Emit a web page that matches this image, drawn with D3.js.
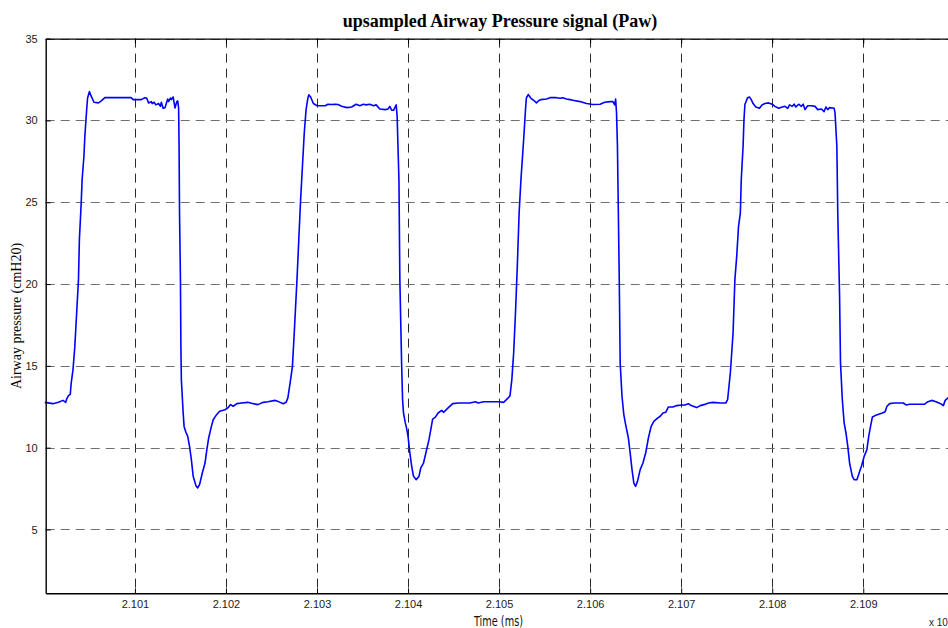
<!DOCTYPE html>
<head>
<meta charset="utf-8">
<script src="https://d3js.org/d3.v7.min.js"></script>
</head>
<style>
body { margin: 0; background: #fff; }
.line { fill: none; stroke: #0000ff; stroke-width: 1.6px; stroke-linejoin: round; }
.grid line { stroke-width: 1px; stroke-dasharray: 9,6; }
.grid .gx { stroke: #2a2a2a; }
.grid .gy { stroke: #707070; }
.tick text { font-family: "Liberation Sans", Arial, sans-serif; font-size: 11px; fill: #222; }
</style>
<body>
<script>
// time in ms (axis shown as x 10^4)
var timeMs = [
  21000.1, 21001.0, 21001.6, 21002.1, 21002.4, 21002.5, 21002.7, 21002.9, 21003.0, 21003.2,
  21003.4, 21003.6, 21003.8, 21003.9, 21004.1, 21004.2, 21004.4, 21004.5, 21004.7, 21004.8,
  21005.0, 21005.2, 21005.5, 21006.0, 21006.3, 21006.7, 21007.4, 21009.6, 21009.8, 21010.7,
  21011.1, 21011.3, 21011.5, 21011.8, 21011.9, 21012.1, 21012.3, 21012.6, 21012.8, 21012.9,
  21013.1, 21013.3, 21013.6, 21013.7, 21013.9, 21014.0, 21014.2, 21014.4, 21014.6, 21014.7,
  21014.8, 21014.85, 21014.9, 21015.0, 21015.05, 21015.1, 21015.3, 21015.4, 21015.6, 21015.8,
  21016.0, 21016.2, 21016.4, 21016.7, 21016.9, 21017.1, 21017.4, 21017.7, 21017.9, 21018.1,
  21018.4, 21018.6, 21018.9, 21019.3, 21019.9, 21020.2, 21020.5, 21020.8, 21021.2, 21021.7,
  21022.4, 21023.0, 21023.5, 21024.1, 21024.6, 21025.4, 21025.7, 21026.3, 21026.6, 21026.8,
  21027.1, 21027.3, 21027.5, 21027.8, 21028.0, 21028.2, 21028.4, 21028.6, 21028.8, 21029.0,
  21029.1, 21029.3, 21029.6, 21030.0, 21030.9, 21031.2, 21031.6, 21032.0, 21032.3, 21032.7,
  21033.3, 21033.8, 21034.3, 21034.7, 21035.1, 21035.4, 21035.8, 21036.2, 21036.5, 21036.9,
  21037.5, 21037.8, 21038.0, 21038.2, 21038.4, 21038.7, 21038.8, 21039.0, 21039.1, 21039.3,
  21039.4, 21039.5, 21039.7, 21039.8, 21040.0, 21040.2, 21040.4, 21040.6, 21040.9, 21041.2,
  21041.4, 21041.7, 21042.0, 21042.3, 21042.5, 21042.7, 21043.0, 21043.3, 21043.7, 21043.9,
  21044.4, 21044.9, 21045.5, 21046.1, 21046.8, 21047.4, 21047.7, 21048.3, 21049.0, 21050.0,
  21050.5, 21051.0, 21051.2, 21051.4, 21051.6, 21051.8, 21052.0, 21052.2, 21052.4, 21052.7,
  21052.9, 21053.0, 21053.2, 21053.5, 21053.8, 21054.1, 21054.4, 21054.6, 21055.2, 21055.6,
  21056.0, 21056.3, 21056.7, 21057.0, 21057.4, 21057.8, 21058.1, 21058.9, 21059.6, 21060.3,
  21061.1, 21061.6, 21062.2, 21062.5, 21062.7, 21062.8, 21062.9, 21063.0, 21063.1, 21063.2,
  21063.3, 21063.5, 21063.7, 21063.9, 21064.2, 21064.4, 21064.6, 21064.8, 21065.0, 21065.2,
  21065.5, 21065.8, 21066.1, 21066.4, 21066.7, 21067.0, 21067.4, 21067.7, 21068.0, 21068.3,
  21068.6, 21069.1, 21069.5, 21070.1, 21070.4, 21070.8, 21071.1, 21071.7, 21072.1, 21072.5,
  21073.0, 21073.5, 21074.3, 21074.9, 21075.1, 21075.4, 21075.7, 21075.9, 21076.1, 21076.3,
  21076.5, 21076.6, 21076.8, 21076.9, 21077.0, 21077.3, 21077.5, 21077.7, 21077.9, 21078.2,
  21078.6, 21078.9, 21079.2, 21079.6, 21080.0, 21080.3, 21080.7, 21081.1, 21081.4, 21081.7,
  21081.9, 21082.2, 21082.4, 21082.6, 21082.9, 21083.2, 21083.4, 21083.6, 21083.9, 21084.3,
  21084.7, 21085.0, 21085.4, 21085.7, 21085.9, 21086.1, 21086.3, 21086.8, 21086.9, 21087.1,
  21087.2, 21087.4, 21087.5, 21087.7, 21087.9, 21088.1, 21088.3, 21088.5, 21088.8, 21089.0,
  21089.3, 21089.6, 21089.8, 21090.1, 21090.4, 21090.6, 21090.8, 21091.0, 21091.3, 21091.7,
  21092.1, 21092.4, 21092.6, 21092.9, 21093.4, 21094.4, 21094.7, 21095.1, 21096.0, 21096.7,
  21097.1, 21097.5, 21098.0, 21098.5, 21098.8, 21099.0, 21099.3, 21099.7
];
// airway pressure, cmH2O
var pressure = [
  12.77, 12.69, 12.77, 12.89, 12.77, 12.97, 13.18, 13.26, 13.95, 14.77,
  16.19, 18.23, 20.27, 22.71, 24.96, 26.38, 27.81, 29.03, 30.66, 31.37,
  31.76, 31.48, 31.11, 31.07, 31.19, 31.39, 31.39, 31.39, 31.27, 31.27,
  31.39, 31.35, 31.07, 31.15, 31.03, 31.11, 30.95, 31.03, 30.86, 31.11,
  30.74, 30.78, 31.31, 31.15, 31.37, 31.27, 31.43, 30.76, 31.15, 31.19,
  30.76, 28.42, 24.34, 20.27, 16.19, 14.16, 12.12, 11.30, 10.94, 10.69,
  10.08, 9.27, 8.25, 7.68, 7.54, 7.74, 8.45, 9.06, 9.88, 10.59,
  11.30, 11.71, 11.96, 12.22, 12.32, 12.43, 12.63, 12.53, 12.69, 12.73,
  12.77, 12.69, 12.63, 12.77, 12.81, 12.89, 12.83, 12.69, 12.77, 13.04,
  14.16, 14.97, 17.01, 20.27, 22.71, 25.16, 27.20, 29.23, 30.66, 31.37,
  31.56, 31.43, 31.03, 30.90, 30.90, 30.99, 30.97, 30.99, 30.97, 30.86,
  30.78, 30.82, 30.99, 30.90, 30.99, 30.95, 30.99, 30.90, 30.95, 30.70,
  30.66, 30.70, 30.86, 30.62, 30.62, 30.95, 30.25, 26.38, 20.27, 14.97,
  12.93, 12.12, 11.51, 11.30, 10.69, 9.67, 8.86, 8.25, 8.04, 8.25,
  8.76, 9.06, 9.78, 10.49, 11.10, 11.75, 11.87, 12.12, 12.28, 12.16,
  12.43, 12.69, 12.73, 12.73, 12.73, 12.81, 12.73, 12.81, 12.81, 12.81,
  12.77, 13.04, 13.18, 14.16, 15.79, 18.23, 21.08, 24.34, 26.38, 28.83,
  30.66, 31.37, 31.58, 31.35, 31.23, 31.07, 31.23, 31.27, 31.31, 31.39,
  31.39, 31.39, 31.35, 31.39, 31.31, 31.27, 31.23, 31.15, 31.03, 30.97,
  30.99, 31.11, 31.15, 31.15, 30.95, 31.31, 30.46, 28.42, 24.34, 20.27,
  15.18, 13.14, 12.02, 11.41, 10.59, 9.67, 8.66, 7.84, 7.64, 7.94,
  8.66, 9.06, 9.67, 10.59, 11.30, 11.61, 11.81, 11.92, 12.12, 12.16,
  12.49, 12.49, 12.57, 12.61, 12.61, 12.69, 12.57, 12.45, 12.57, 12.63,
  12.73, 12.77, 12.73, 12.73, 12.93, 14.57, 17.01, 20.27, 21.69, 23.53,
  24.34, 26.38, 28.42, 30.05, 30.97, 31.39, 31.43, 31.27, 31.03, 30.82,
  30.74, 30.95, 31.03, 31.07, 30.99, 30.86, 30.74, 30.82, 30.86, 30.74,
  30.95, 30.86, 30.99, 30.82, 30.99, 30.86, 30.99, 30.66, 30.90, 30.90,
  30.86, 30.66, 30.70, 30.54, 30.82, 30.66, 30.78, 30.74, 30.46, 28.42,
  24.34, 19.25, 15.18, 12.93, 11.51, 10.90, 10.08, 9.06, 8.25, 8.04,
  8.04, 8.55, 8.86, 9.47, 9.88, 10.69, 11.30, 11.87, 11.96, 12.04,
  12.12, 12.20, 12.53, 12.69, 12.73, 12.73, 12.61, 12.65, 12.65, 12.65,
  12.81, 12.89, 12.81, 12.69, 12.57, 12.89, 13.04, 13.00
];
var xTicks = [21010, 21020, 21030, 21040, 21050, 21060, 21070, 21080, 21090];
var yTicks = [5, 10, 15, 20, 25, 30, 35];

var data = timeMs.map(function(t, i) { return {t: t, p: pressure[i]}; });

var plotLeft = 45.7, plotRight = 954.3, plotTop = 38.6, plotBottom = 593.3;

var svg = d3.select("body").append("svg")
    .attr("width", 948)
    .attr("height", 628);

var x = d3.scaleLinear().domain([21000.2, 21100]).range([plotLeft, plotRight]);
var y = d3.scaleLinear().domain([1.1, 35]).range([plotBottom, plotTop]);

// grid
var grid = svg.append("g").attr("class", "grid");
grid.selectAll(".gx").data(xTicks).enter().append("line")
    .attr("class", "gx")
    .attr("x1", function(d) { return Math.round(x(d)) + 0.5; })
    .attr("x2", function(d) { return Math.round(x(d)) + 0.5; })
    .attr("y1", plotTop).attr("y2", plotBottom);
grid.selectAll(".gy").data(yTicks).enter().append("line")
    .attr("class", "gy")
    .attr("y1", function(d) { return Math.round(y(d)) + 0.5; })
    .attr("y2", function(d) { return Math.round(y(d)) + 0.5; })
    .attr("x1", plotLeft).attr("x2", plotRight);

// signal
var valueline = d3.line()
    .x(function(d) { return x(d.t); })
    .y(function(d) { return y(d.p); });
svg.append("path")
    .data([data])
    .attr("class", "line")
    .attr("d", valueline);

// axes (MATLAB style, ticks inward)
function styleDomain(g) { g.select(".domain").attr("stroke", "#000").attr("stroke-width", 1.4); }
svg.append("g")
    .attr("transform", "translate(0," + plotBottom + ")")
    .call(d3.axisBottom(x).tickValues(xTicks).tickSizeInner(-5).tickSizeOuter(0).tickPadding(7)
      .tickFormat(function(d) { return (d / 1e4).toFixed(3); }))
    .call(styleDomain);
svg.append("g")
    .attr("transform", "translate(0," + plotTop + ")")
    .call(d3.axisTop(x).tickValues(xTicks).tickSizeInner(-5).tickSizeOuter(0).tickFormat(""))
    .call(styleDomain);
svg.append("g")
    .attr("transform", "translate(" + plotLeft + ",0)")
    .call(d3.axisLeft(y).tickValues(yTicks).tickSizeInner(-5).tickSizeOuter(0).tickPadding(8))
    .call(styleDomain);

// labels
svg.append("text")
    .attr("x", (plotLeft + plotRight) / 2).attr("y", 27)
    .attr("text-anchor", "middle")
    .style("font-family", "'Liberation Serif', 'Times New Roman', serif")
    .style("font-weight", "bold").style("font-size", "18px")
    .text("upsampled Airway Pressure signal (Paw)");
svg.append("text")
    .attr("transform", "translate(21," + ((plotTop + plotBottom) / 2) + ") rotate(-90)")
    .attr("text-anchor", "middle")
    .style("font-family", "'Liberation Serif', 'Times New Roman', serif")
    .style("font-size", "14px")
    .text("Airway pressure (cmH20)");
svg.append("text")
    .attr("x", 474).attr("y", 626)
    .attr("textLength", 49).attr("lengthAdjust", "spacingAndGlyphs")
    .style("font-family", "'Liberation Sans Narrow', 'DejaVu Sans Condensed', sans-serif")
    .style("font-size", "14px").style("fill", "#111")
    .text("Time (ms)");
var mult = svg.append("text")
    .attr("x", 929).attr("y", 626)
    .style("font-family", "'Liberation Sans', Arial, sans-serif")
    .style("font-size", "10px").style("fill", "#222");
mult.append("tspan").text("x 10");
mult.append("tspan").attr("dy", -5).style("font-size", "8px").text("4");
</script>
</body>
